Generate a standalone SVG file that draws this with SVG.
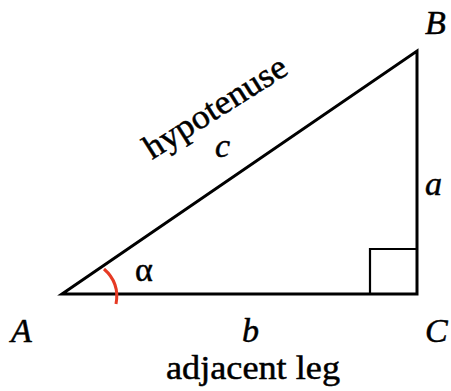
<svg xmlns="http://www.w3.org/2000/svg" width="451" height="391" viewBox="0 0 451 391">
<style>
.edge{fill:none;stroke:#000;stroke-width:3;stroke-linejoin:miter;stroke-linecap:butt}
.thin{fill:none;stroke:#000;stroke-width:2.2}
.lbl{font-family:"Liberation Serif","Times New Roman",serif;font-size:34px;fill:#000;stroke:#000;stroke-width:0.5}
.it{font-style:italic}
</style>
<rect width="451" height="391" fill="#fff"/>
<g id="triangle">
<path class="edge" d="M62,294 L417,294 L417,51 Z"/>
<path class="thin" d="M370,294 L370,249 L417,249"/>
</g>
<g id="angle">
<path d="M104,269 Q120,283 116,304" fill="none" stroke="#e63a24" stroke-width="3"/>
<text class="lbl" x="135" y="281" font-size="36">α</text>
</g>
<g id="vertexA"><text class="lbl it" x="11" y="342">A</text></g>
<g id="vertexB"><text class="lbl it" x="425" y="34">B</text></g>
<g id="vertexC"><text class="lbl it" x="425" y="342">C</text></g>
<g id="sideA"><text class="lbl it" x="425" y="195">a</text></g>
<g id="sideB"><text class="lbl it" x="242" y="342">b</text></g>
<g id="sideC"><text class="lbl it" x="215" y="157">c</text></g>
<g id="hypLabel"><text class="lbl" x="0" y="0" font-size="35" textLength="163" lengthAdjust="spacingAndGlyphs" transform="translate(152,160) rotate(-32.2)">hypotenuse</text></g>
<g id="adjLabel"><text class="lbl" x="166" y="379" font-size="35" textLength="174" lengthAdjust="spacingAndGlyphs">adjacent leg</text></g>
</svg>
